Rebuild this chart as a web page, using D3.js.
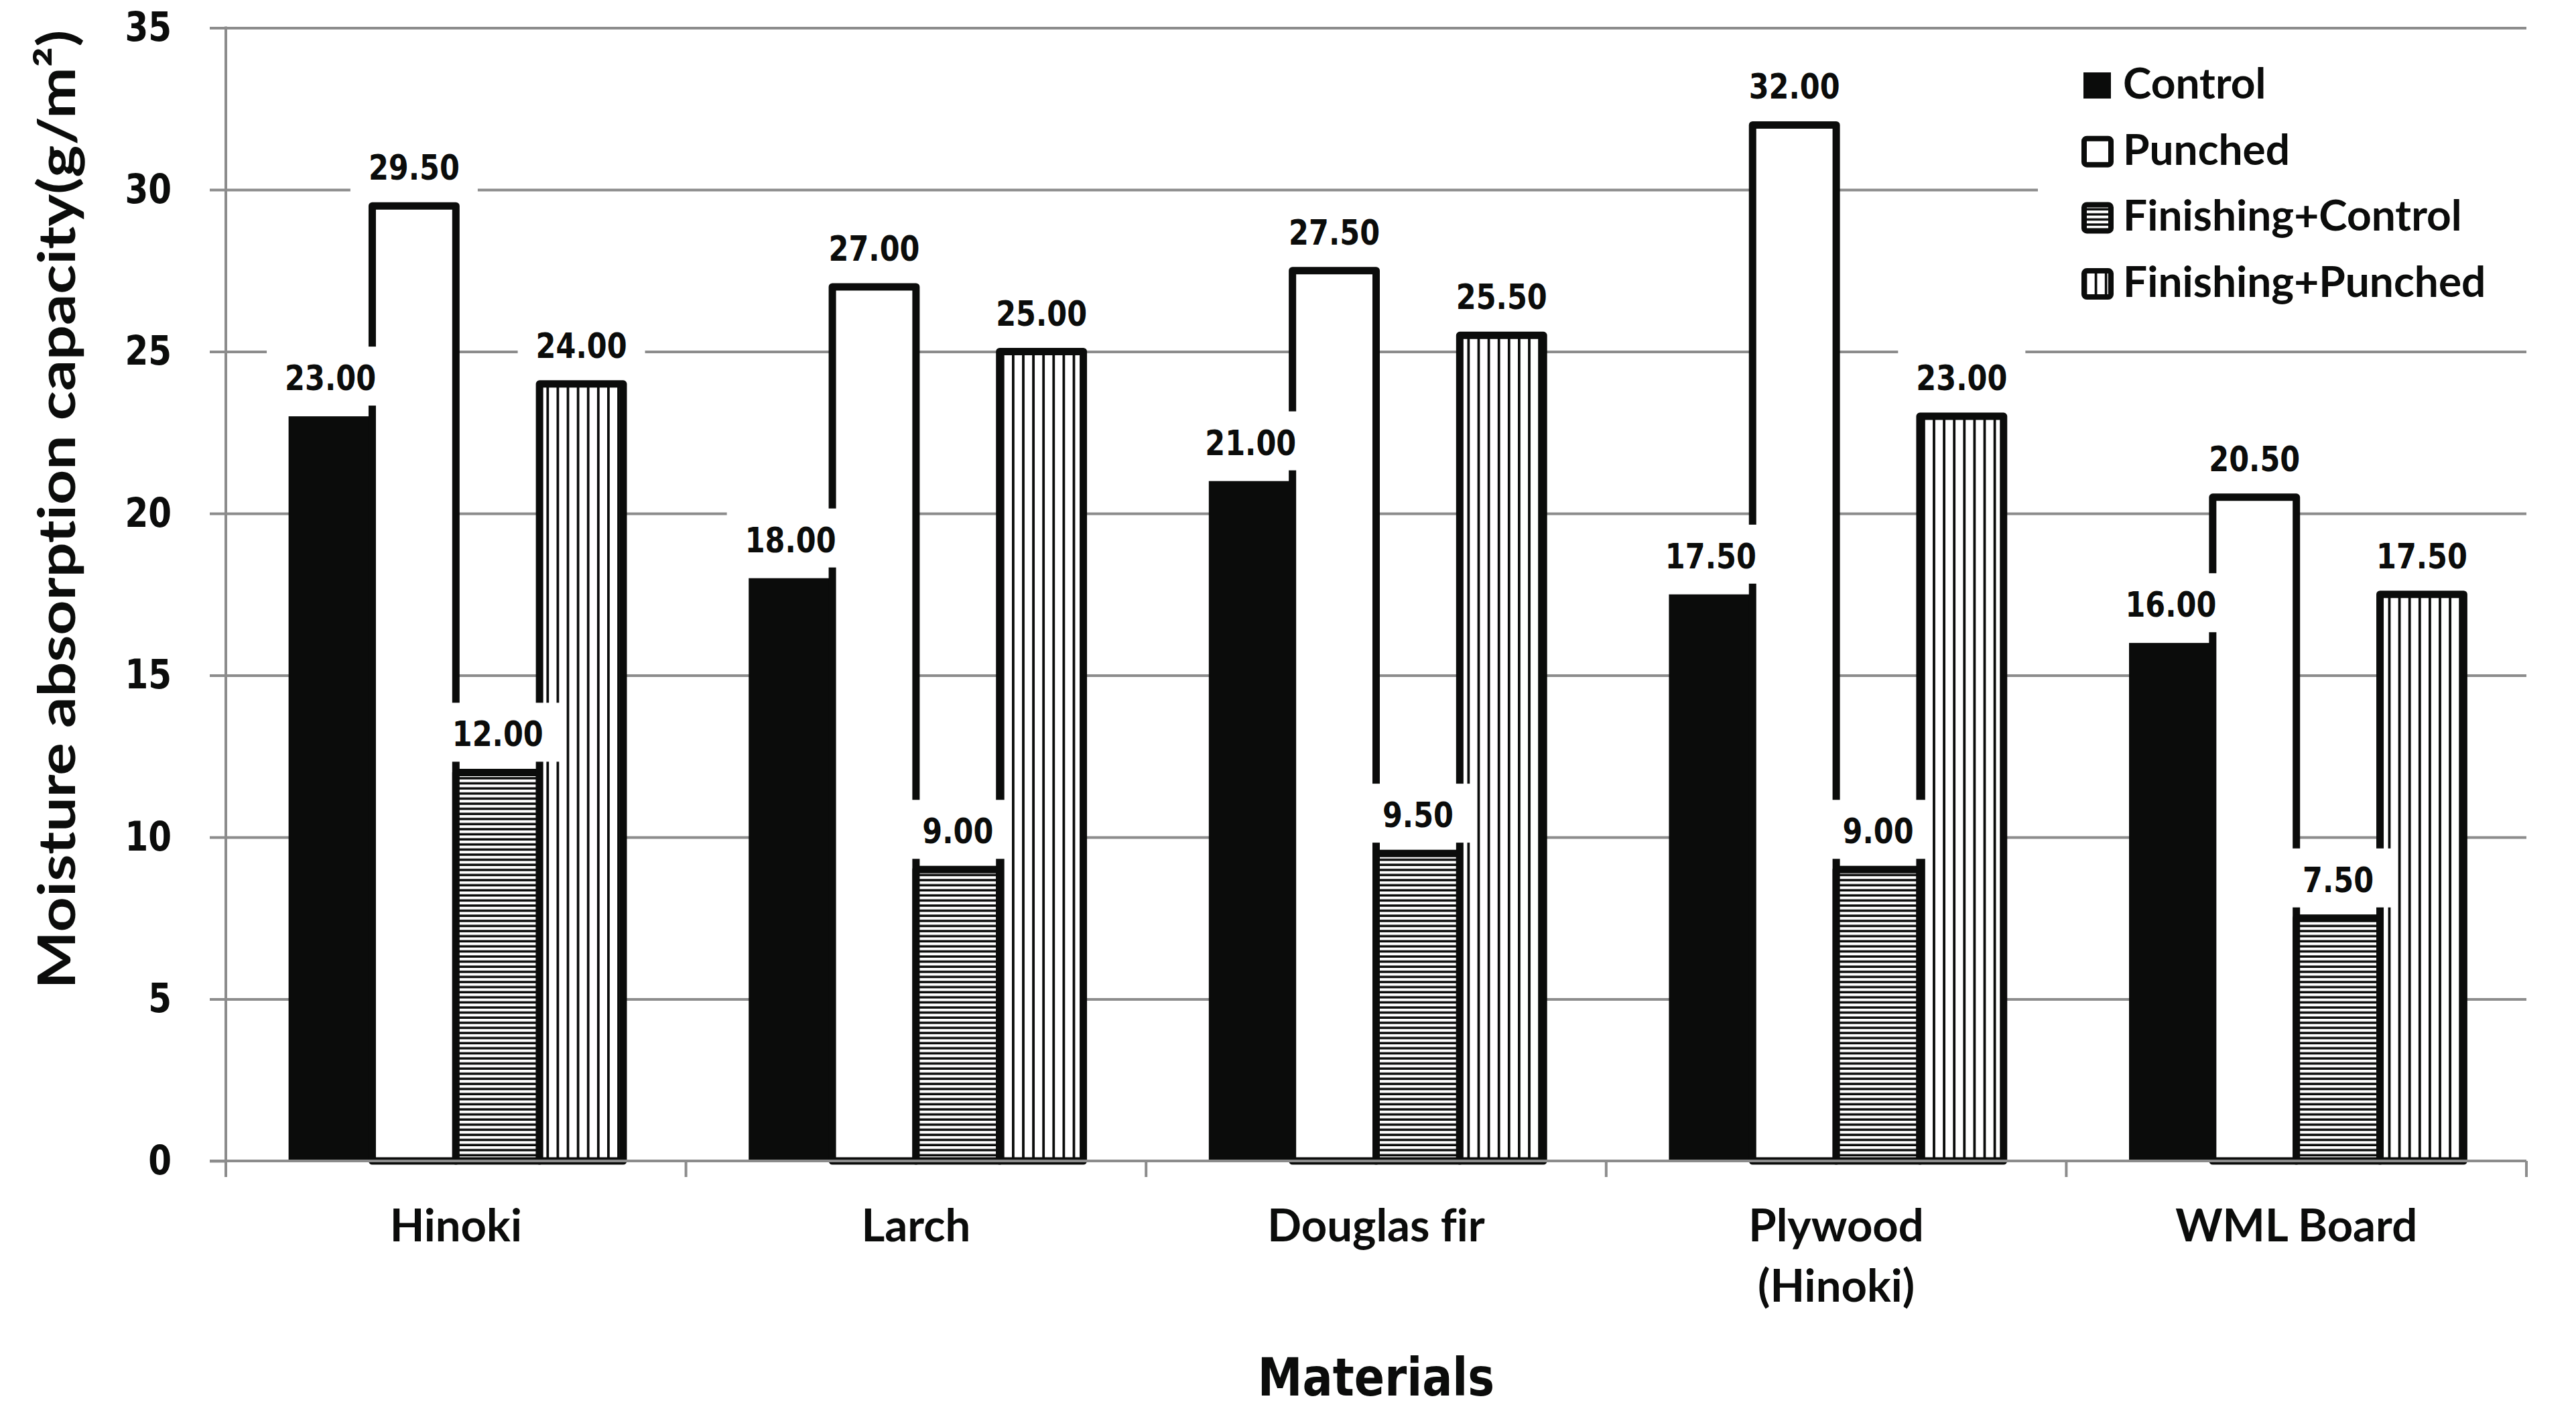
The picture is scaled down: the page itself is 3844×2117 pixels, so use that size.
<!DOCTYPE html>
<html><head><meta charset="utf-8">
<script src="https://cdn.jsdelivr.net/npm/d3@7"></script>
<style>html,body{margin:0;padding:0;background:#fff;overflow:hidden} text{font-variant-ligatures:none;font-feature-settings:"liga" 0,"clig" 0}</style>
</head><body>
<svg id="chart" width="3844" height="2117" xmlns="http://www.w3.org/2000/svg"></svg>
<script>
// ---------------- data ----------------
const categories = ["Hinoki", "Larch", "Douglas fir", "Plywood\n(Hinoki)", "WML Board"];
const seriesNames = ["Control", "Punched", "Finishing+Control", "Finishing+Punched"];
const control = [23, 18, 21, 17.5, 16];
const punched = [29.5, 27, 27.5, 32, 20.5];
const finishingControl = [12, 9, 9.5, 9, 7.5];
const finishingPunched = [24, 25, 25.5, 23, 17.5];
const yTicks = [0, 5, 10, 15, 20, 25, 30, 35];
const yTitle = "Moisture absorption capacity(g/m²)";
const xTitle = "Materials";

const seriesValues = [control, punched, finishingControl, finishingPunched];

// ---------------- layout ----------------
const W = 3844, H = 2117;
const plot = {left: 337, right: 3770, top: 41.5, bottom: 1732};
const INK = "#0b0c0b", GRID = "#8c8c8c";
const NUM_FONT = "'DejaVu Sans', Verdana, sans-serif";
const TXT_FONT = "Lato, 'Open Sans', sans-serif";
const STRETCH = 1.2;

const svg = d3.select("#chart");
svg.append("rect").attr("width", W).attr("height", H).attr("fill", "#fff");

// patterns
const defs = svg.append("defs");
const ph = defs.append("pattern").attr("id", "hatchH").attr("patternUnits", "userSpaceOnUse")
  .attr("width", 16).attr("height", 7.6);
ph.append("rect").attr("width", 16).attr("height", 7.6).attr("fill", INK);
ph.append("rect").attr("y", 0).attr("width", 16).attr("height", 4.1).attr("fill", "#fff");
const pv = defs.append("pattern").attr("id", "hatchV").attr("patternUnits", "userSpaceOnUse")
  .attr("width", 15.1).attr("height", 20);
pv.append("rect").attr("width", 15.1).attr("height", 20).attr("fill", "#fff");
pv.append("rect").attr("x", 0).attr("width", 3.8).attr("height", 20).attr("fill", INK);

const seriesStyle = [
  {fill: INK, stroke: "none", sw: 0},
  {fill: "#fff", stroke: INK, sw: 11},
  {fill: "url(#hatchH)", stroke: INK, sw: 11},
  {fill: "url(#hatchV)", stroke: INK, sw: 11}
];

// scales
const x0 = d3.scaleBand().domain(categories).range([plot.left, plot.right])
  .paddingInner(1.5 / 5.5).paddingOuter(0.75 / 5.5);
const x1 = d3.scaleBand().domain(seriesNames).range([0, x0.bandwidth()]);
const y = d3.scaleLinear().domain([0, 35]).range([plot.bottom, plot.top]);

// gridlines
svg.append("g").attr("transform", `translate(${plot.left},0)`)
  .call(d3.axisLeft(y).tickValues(yTicks.slice(1)).tickSize(-(plot.right - plot.left)).tickFormat(""))
  .call(g => g.select(".domain").remove())
  .call(g => g.selectAll("line").attr("stroke", GRID).attr("stroke-width", 4));

// legend background (covers gridlines)
svg.append("rect").attr("x", 3041).attr("y", 62).attr("width", 760).attr("height", 408).attr("fill", "#fff");

// bars
const data = [];
categories.forEach((c, ci) => seriesNames.forEach((s, si) => data.push({c, s, si, v: seriesValues[si][ci]})));

svg.append("g").selectAll("rect").data(data).join("rect")
  .attr("x", d => x0(d.c) + x1(d.s))
  .attr("y", d => y(d.v))
  .attr("width", x1.bandwidth())
  .attr("height", d => y(0) - y(d.v))
  .attr("fill", d => seriesStyle[d.si].fill)
  .attr("stroke", d => seriesStyle[d.si].stroke)
  .attr("stroke-width", d => seriesStyle[d.si].sw)
  .attr("stroke-linejoin", "round");

// y axis ticks + labels
svg.append("g").attr("transform", `translate(${plot.left},0)`)
  .call(d3.axisLeft(y).tickValues(yTicks).tickSize(24).tickPadding(57).tickSizeOuter(0))
  .call(g => g.select(".domain").remove())
  .call(g => g.selectAll("line").attr("stroke", GRID).attr("stroke-width", 4))
  .call(g => g.selectAll("text").attr("font-family", NUM_FONT).attr("font-weight", "bold")
    .attr("font-size", 50).attr("fill", INK).attr("transform", `scale(1,${STRETCH})`));

// axis lines
svg.append("line").attr("x1", plot.left).attr("x2", plot.left).attr("y1", plot.top - 2).attr("y2", plot.bottom + 24)
  .attr("stroke", GRID).attr("stroke-width", 4);
svg.append("line").attr("x1", plot.left - 24).attr("x2", plot.right).attr("y1", plot.bottom).attr("y2", plot.bottom)
  .attr("stroke", GRID).attr("stroke-width", 4);
// category separators
const bounds = categories.map(c => x0(c) - x0.step() * x0.paddingOuter()).concat([plot.right]);
svg.append("g").selectAll("line").data(bounds).join("line")
  .attr("x1", d => d).attr("x2", d => d).attr("y1", plot.bottom).attr("y2", plot.bottom + 24)
  .attr("stroke", GRID).attr("stroke-width", 4);

// data labels with white boxes
const fmt = d3.format(".2f");
const lab = svg.append("g").selectAll("g").data(data).join("g")
  .attr("transform", d => `translate(${x0(d.c) + x1(d.s) + x1.bandwidth() / 2},${y(d.v) - 39})`);
const boxes = lab.append("rect").attr("fill", "#fff");
const tg = lab.append("g").attr("transform", `scale(1,${STRETCH})`);
const texts = tg.append("text").attr("text-anchor", "middle").attr("font-family", NUM_FONT)
  .attr("font-weight", "bold").attr("font-size", 43).attr("fill", INK).text(d => fmt(d.v));
texts.each(function(d, i) {
  const w = this.getComputedTextLength();
  d3.select(boxes.nodes()[i]).attr("x", -w / 2 - 27).attr("y", -65).attr("width", w + 54).attr("height", 88);
});

// category labels
const catG = svg.append("g").selectAll("text").data(categories).join("text")
  .attr("text-anchor", "middle").attr("font-family", TXT_FONT).attr("font-weight", "bold")
  .attr("font-size", 67).attr("fill", INK)
  .attr("transform", d => `translate(${x0(d) + x0.bandwidth() / 2},1852)`);
catG.selectAll("tspan").data(d => d.split("\n")).join("tspan")
  .attr("x", 0).attr("y", (d, i) => i * 90).text(d => d);

// x title
svg.append("text").attr("text-anchor", "middle").attr("font-family", NUM_FONT).attr("font-weight", "bold")
  .attr("font-size", 67).attr("fill", INK)
  .attr("transform", `translate(${(plot.left + plot.right) / 2},2082) scale(1,1.17)`).text(xTitle);

// y title
svg.append("text").attr("text-anchor", "middle").attr("font-family", TXT_FONT).attr("font-weight", "bold")
  .attr("font-size", 76).attr("fill", INK)
  .attr("transform", `translate(112,760) rotate(-90) scale(${STRETCH},1)`).text(yTitle);

// legend
const leg = svg.append("g").selectAll("g").data(seriesNames).join("g")
  .attr("transform", (d, i) => `translate(0,${147 + i * 98.7})`);
leg.append("rect")
  .attr("x", (d, i) => i === 0 ? 3109 : 3110)
  .attr("y", -39)
  .attr("width", (d, i) => i === 0 ? 41 : 40)
  .attr("height", 39)
  .attr("rx", (d, i) => i === 0 ? 0 : 4)
  .attr("fill", (d, i) => seriesStyle[i].fill)
  .attr("stroke", (d, i) => i === 0 ? "none" : INK)
  .attr("stroke-width", 8);
leg.append("text").attr("x", 3168).attr("y", 0).attr("font-family", TXT_FONT).attr("font-weight", "bold")
  .attr("font-size", 64).attr("fill", INK).text(d => d);
</script>
</body></html>
